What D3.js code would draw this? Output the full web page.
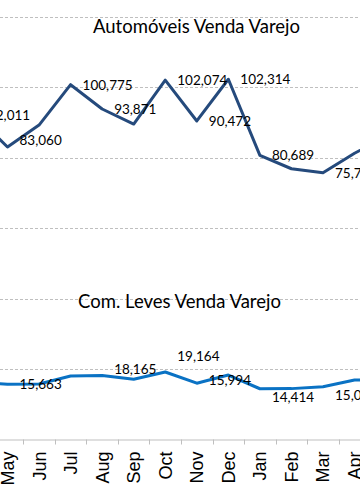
<!DOCTYPE html>
<html>
<head>
<meta charset="utf-8">
<script src="https://cdn.jsdelivr.net/npm/d3@7"></script>
<style>
  html, body { margin: 0; padding: 0; background: #fff; }
  svg { display: block; font-family: Lato, "Open Sans", sans-serif; }
  .grid line { stroke: #bfbfbf; stroke-dasharray: 3,2; }
  .x-axis .domain { stroke: #bfbfbf; }
  .x-axis text { font-size: 18px; fill: #000; }
  .label { font-size: 13.5px; fill: #000; }
  .title { font-size: 18.5px; fill: #000; }
</style>
</head>
<body>
<svg id="chart"></svg>
<script>
// Months on the axis (the view is cropped: first Apr and last May fall outside)
var months = ["Apr", "May", "Jun", "Jul", "Aug", "Sep", "Oct", "Nov", "Dec", "Jan", "Feb", "Mar", "Apr", "May"];

// Automóveis Venda Varejo
var autoValues = [92011, 83060, 89300, 100775, 93871, 89600, 102074, 90472, 102314, 80689, 76900, 75750, 81300, 86000];
var autoShowLabel = [true, true, false, true, true, false, true, true, true, true, false, true, false, false];

// Com. Leves Venda Varejo
var leveValues = [16500, 15663, 15750, 18050, 18165, 17100, 19164, 15994, 18300, 14414, 14450, 15000, 16900, 17000];
var leveShowLabel = [false, true, false, false, true, false, true, true, false, true, false, true, false, false];

var yTicks = [0, 20000, 40000, 60000, 80000, 100000, 120000];

var width = 360;
var height = 504;

var svg = d3.select("#chart")
            .attr("width", width)
            .attr("height", height);

var step = 31.55;
var firstCenter = 7.5 - step; // centre of the hidden first month

var x = d3.scaleBand()
          .domain(d3.range(months.length))
          .range([firstCenter - step / 2, firstCenter - step / 2 + step * months.length])
          .padding(0);

var y = d3.scaleLinear()
          .domain([0, 120000])
          .range([439.5, 17]);

var cx = i => x(i) + x.bandwidth() / 2;

// gridlines
svg.append("g")
   .attr("class", "grid")
   .selectAll("line")
   .data(yTicks.slice(1))
   .enter().append("line")
   .attr("x1", 0)
   .attr("x2", width)
   .attr("y1", d => Math.round(y(d)) + 0.5)
   .attr("y2", d => Math.round(y(d)) + 0.5);

// x axis, tick marks sit between the categories
var xAxis = svg.append("g")
               .attr("class", "x-axis")
               .attr("transform", `translate(0,${y(0)})`)
               .call(d3.axisBottom(x).tickSize(0).tickFormat(i => months[i]));

xAxis.select(".domain").attr("d", `M${x.range()[0]},0.5H${x.range()[1]}`);

xAxis.selectAll(".tick text")
     .attr("transform", "rotate(-90)")
     .attr("x", -12)
     .attr("y", 0)
     .attr("dy", "0.36em")
     .attr("text-anchor", "end");

xAxis.selectAll(".sep")
     .data(d3.range(1, months.length))
     .enter().append("line")
     .attr("class", "sep")
     .attr("x1", d => Math.round(x(d)) + 0.5)
     .attr("x2", d => Math.round(x(d)) + 0.5)
     .attr("y1", 0)
     .attr("y2", 5)
     .attr("stroke", "#bfbfbf");

var line = d3.line()
             .x((d, i) => cx(i))
             .y(d => y(d));

svg.append("path")
   .datum(autoValues)
   .attr("fill", "none")
   .attr("stroke", "#254a7c")
   .attr("stroke-width", 3)
   .attr("stroke-linejoin", "round")
   .attr("d", line);

svg.append("path")
   .datum(leveValues)
   .attr("fill", "none")
   .attr("stroke", "#0a72c4")
   .attr("stroke-width", 3)
   .attr("stroke-linejoin", "round")
   .attr("d", line);

// small vertical nudges for labels that were moved by hand
var autoNudge = {1: -7};
var leveNudge = {4: -6, 6: -16, 7: -3, 9: 8, 11: 8};

var fmt = d3.format(",");

function addLabels(values, show, nudge) {
  svg.append("g")
     .selectAll("text")
     .data(values.map((v, i) => ({v: v, i: i})).filter(d => show[d.i]))
     .enter().append("text")
     .attr("class", "label")
     .attr("x", d => cx(d.i) + 12)
     .attr("y", d => y(d.v) + (nudge[d.i] || 0))
     .attr("dy", "0.36em")
     .text(d => fmt(d.v));
}

addLabels(autoValues, autoShowLabel, autoNudge);
addLabels(leveValues, leveShowLabel, leveNudge);

svg.append("text")
   .attr("class", "title")
   .attr("x", 196.5)
   .attr("y", 33)
   .attr("text-anchor", "middle")
   .text("Automóveis Venda Varejo");

svg.append("text")
   .attr("class", "title")
   .attr("x", 179.5)
   .attr("y", 308)
   .attr("text-anchor", "middle")
   .text("Com. Leves Venda Varejo");
</script>
</body>
</html>
